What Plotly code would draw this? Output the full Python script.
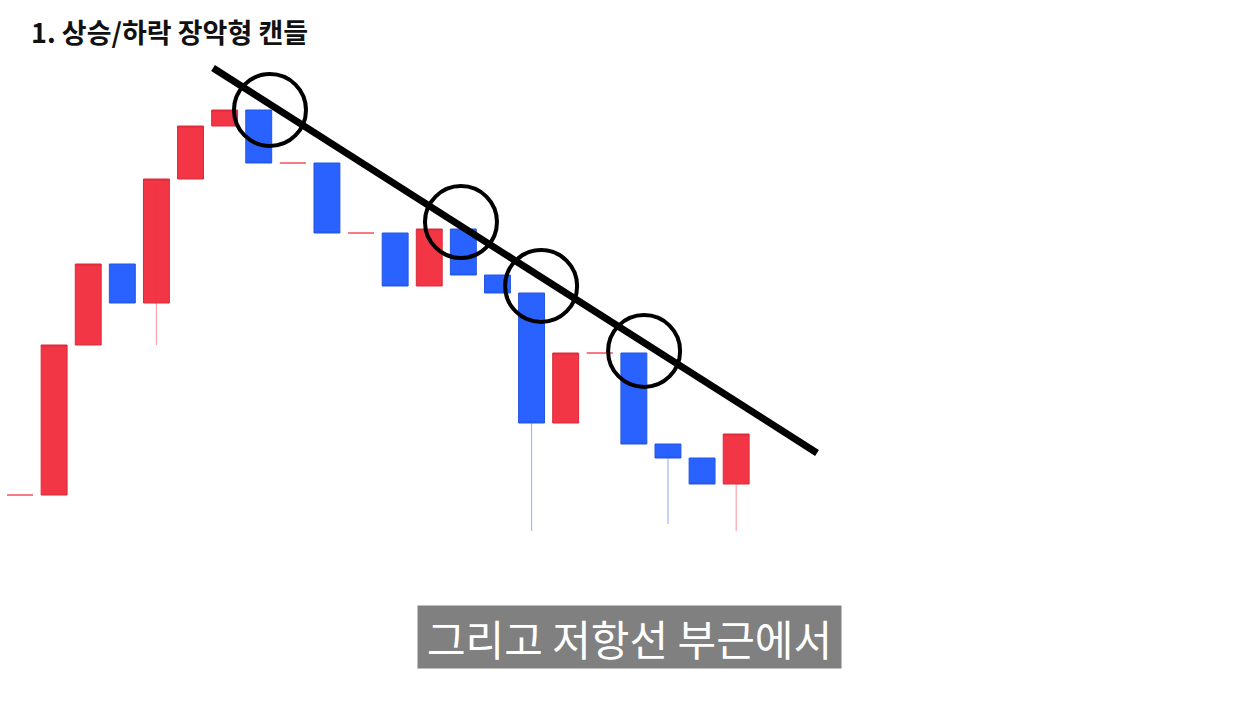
import plotly.graph_objects as go

# ---- data (price units) ----
idx    = list(range(22))
opens  = [65, 65, 215, 296, 257, 381, 434, 450, 397, 397, 327, 327, 274, 331, 285, 267, 137, 207, 207, 116, 102, 76]
closes = [65, 215, 296, 257, 381, 434, 450, 397, 397, 327, 327, 274, 331, 285, 267, 137, 207, 207, 116, 102, 76, 126]
highs  = [65, 215, 296, 296, 381, 434, 450, 450, 397, 397, 327, 327, 331, 331, 285, 267, 207, 207, 207, 116, 102, 126]
lows   = [65, 65, 215, 257, 215, 381, 434, 397, 397, 327, 327, 274, 274, 285, 267, 29, 137, 207, 116, 36, 76, 29]

trend_x = [5.66, 23.37]
trend_y = [492, 107]
circle_x = [7.33, 12.93, 15.28, 18.30]
circle_y = [450, 338, 274, 209]

title_text = "1. 상승/하락 장악형 캔들"
caption_text = "그리고 저항선 부근에서"

RED = "#F23645"
RED_EDGE = "#D92B3A"
RED_WICK = "rgba(242,54,69,0.45)"
BLUE = "#2962FF"
BLUE_EDGE = "#2456E0"
BLUE_WICK = "rgba(41,98,255,0.45)"

fig = go.Figure()

# wicks
for up in (True, False):
    wx, wy = [], []
    for i, o, c, h, l in zip(idx, opens, closes, highs, lows):
        if o == c:
            continue
        if (c > o) == up and (h > max(o, c) or l < min(o, c)):
            wx += [i, i, None]
            wy += [l, h, None]
    fig.add_trace(go.Scatter(x=wx, y=wy, mode="lines",
                             line=dict(color=RED_WICK if up else BLUE_WICK, width=1.2),
                             hoverinfo="skip", showlegend=False))

def body_trace(sel, fill, edge):
    xs = [idx[k] for k in sel]
    o = [opens[k] for k in sel]
    c = [closes[k] for k in sel]
    hi = [max(opens[k], closes[k]) for k in sel]
    lo = [min(opens[k], closes[k]) for k in sel]
    return go.Candlestick(
        x=xs, open=o, high=hi, low=lo, close=c,
        increasing=dict(fillcolor=fill, line=dict(color=edge, width=1)),
        decreasing=dict(fillcolor=fill, line=dict(color=edge, width=1)),
        showlegend=False, hoverinfo="skip")

up_sel = [k for k in idx if closes[k] > opens[k]]
dn_sel = [k for k in idx if closes[k] < opens[k]]
doji_sel = [k for k in idx if closes[k] == opens[k]]

fig.add_trace(body_trace(up_sel, RED, RED_EDGE))
fig.add_trace(body_trace(dn_sel, BLUE, BLUE_EDGE))
fig.add_trace(body_trace(doji_sel, RED, "rgba(242,54,69,0.6)"))

# resistance line
fig.add_trace(go.Scatter(x=trend_x, y=trend_y, mode="lines",
                         line=dict(color="black", width=7),
                         hoverinfo="skip", showlegend=False))
# circles
fig.add_trace(go.Scatter(x=circle_x, y=circle_y, mode="markers",
                         marker=dict(symbol="circle-open", size=72, color="black",
                                     line=dict(width=4, color="black")),
                         hoverinfo="skip", showlegend=False))

fig.add_annotation(text="<b>" + title_text + "</b>", xref="paper", yref="paper",
                   x=29 / 1260, y=1 - 31 / 704, xanchor="left", yanchor="middle",
                   showarrow=False,
                   font=dict(family="Noto Sans CJK KR", size=27, color="#111111"))

fig.add_annotation(text=caption_text, xref="paper", yref="paper",
                   x=629.5 / 1260, y=1 - 637 / 704, xanchor="center", yanchor="middle",
                   showarrow=False, bgcolor="#808080", borderpad=3,
                   width=417, height=56, align="center",
                   font=dict(family="Noto Sans CJK KR", size=42, color="white"))

fig.update_layout(
    width=1260, height=704,
    margin=dict(l=0, r=0, t=0, b=0),
    paper_bgcolor="white", plot_bgcolor="white",
    boxgap=0.24, boxgroupgap=0,
    showlegend=False,
    xaxis=dict(range=[-0.587, 36.36], visible=False, rangeslider=dict(visible=False),
               fixedrange=True),
    yaxis=dict(range=[-144, 560], visible=False, fixedrange=True),
)

fig.write_html("out.html", config=dict(displayModeBar=False))
